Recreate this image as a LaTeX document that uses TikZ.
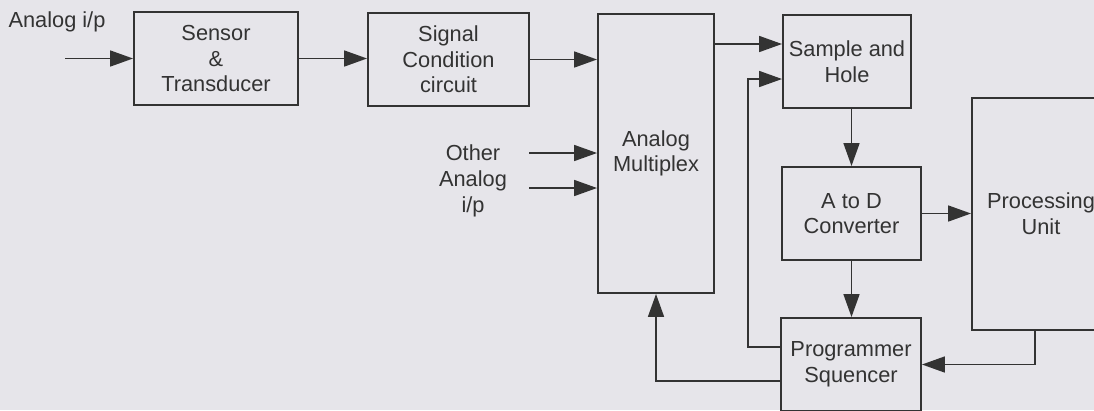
\documentclass[tikz,border=0pt]{standalone}
\usepackage{fontspec}
\setmainfont{Liberation Sans}
\usetikzlibrary{arrows.meta,positioning}
\definecolor{ScanPaper}{HTML}{E6E5EA}
\definecolor{InkGray}{HTML}{333333}

\begin{document}
\begin{tikzpicture}[x=0.02cm, y=-0.02cm,
    every node/.style={font=\fontsize{12.4}{14.6}\selectfont, text=InkGray},
    blockbox/.style={draw=InkGray, line width=1.1pt, align=center, inner sep=0pt},
    sig/.style={draw=InkGray, line width=1.1pt, -{Triangle[length=13pt,width=9pt]}}]
        % page and paper
        \fill[ScanPaper] (0,0) rectangle (1094,410);
        \clip (0,0) rectangle (1094,410);
        % blocks
        \node[blockbox, minimum width=3.28cm, minimum height=1.86cm] (sensor) at (216,58.5) {Sensor\\\&\\Transducer};
        \node[blockbox, minimum width=3.22cm, minimum height=1.86cm] (signal) at (448.5,59.5) {Signal\\Condition\\circuit};
        \node[blockbox, minimum width=2.32cm, minimum height=5.58cm] (mux) at (656,153.5) {Analog\\Multiplex};
        \node[blockbox, minimum width=2.56cm, minimum height=1.86cm] (sampler) at (847,61.5) {Sample and\\Hole};
        \node[blockbox, minimum width=2.78cm, minimum height=1.86cm] (adc) at (851.5,213.5) {A to D\\Converter};
        \node[blockbox, minimum width=2.76cm, minimum height=4.64cm] (cpu) at (1041,214) {Processing\\Unit};
        \node[blockbox, minimum width=2.80cm, minimum height=1.86cm] (seq) at (851,364.5) {Programmer\\Squencer};
        % free labels
        \node (ain) at (57,22) {Analog i/p};
        \node[align=center] (other) at (473,181) {Other\\Analog\\i/p};
        % loose ends
        \coordinate (ainstart) at (65,58.5);
        \coordinate (other1) at (529,153);
        \coordinate (other2) at (529,188);
        \coordinate (muxout) at (714,44);
        \coordinate (holdin) at (748,79);
        \coordinate (cpuout) at (1035,330);
        % signal path
        \draw[sig] (ainstart) -- (sensor.west |- ainstart);
        \draw[sig] (sensor.east) -- (sensor.east -| signal.west);
        \draw[sig] (signal.east) -- (signal.east -| mux.west);
        \draw[sig] (other1) -- (other1 -| mux.west);
        \draw[sig] (other2) -- (other2 -| mux.west);
        \draw[sig] (muxout) -- (muxout -| sampler.west);
        \draw[sig] (adc.north |- sampler.south) -- (adc.north);
        \draw[sig] (adc.east) -- (adc.east -| cpu.west);
        \draw[sig] (adc.south) -- (adc.south |- seq.north);
        % control lines
        \draw[sig] (cpuout) |- (seq.east);
        \draw[sig] (seq.west |- 0,347) -| (holdin) -- (holdin -| sampler.west);
        \draw[sig] (seq.west |- 0,381) -| (mux.south);
      \end{tikzpicture}
\end{document}
